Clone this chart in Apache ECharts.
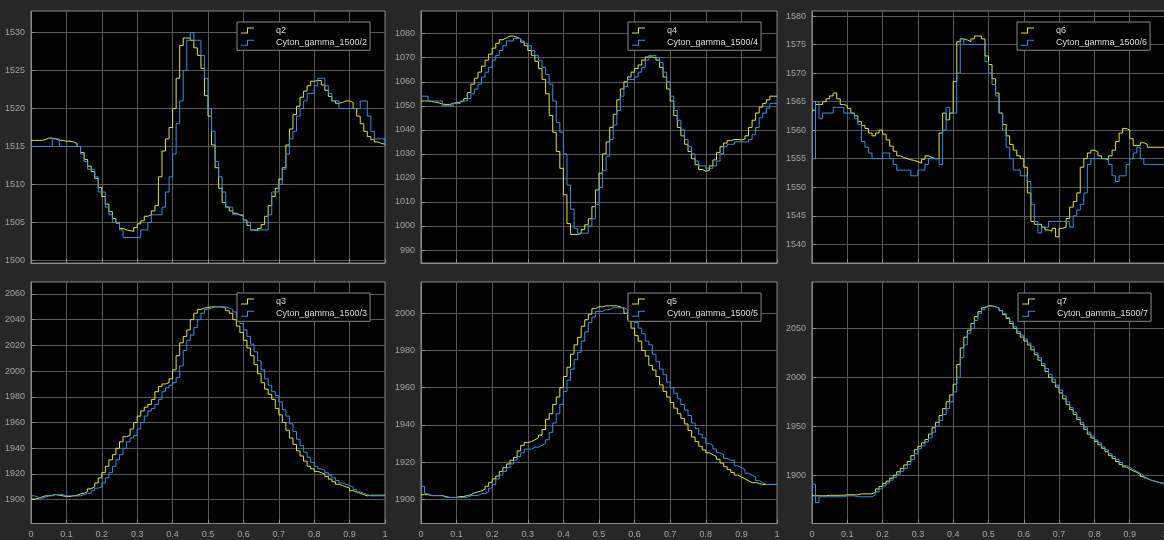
<!DOCTYPE html>
<html>
<head>
<meta charset="utf-8">
<script src="https://cdn.jsdelivr.net/npm/echarts@6/dist/echarts.min.js"></script>
<style>
  html, body { margin: 0; padding: 0; background: #272727; }
  #chart { width: 1164px; height: 540px; }
</style>
</head>
<body>
<div id="chart"></div>
<script>
// Scope sample period (s) and shared time-axis ticks
const SAMPLE_TIME = 0.01;
const X_TICKS = [0, 0.1, 0.2, 0.3, 0.4, 0.5, 0.6, 0.7, 0.8, 0.9, 1];

// Joint 2
const Q2_REF = [1515.8, 1515.8, 1515.8, 1515.9, 1516.1, 1516.1, 1516.0, 1515.8, 1515.8, 1515.7,
  1515.7, 1515.6, 1515.4, 1515.0, 1514.2, 1513.3, 1512.4, 1511.7, 1510.8, 1509.6,
  1508.4, 1507.4, 1506.4, 1505.5, 1504.9, 1504.2, 1504.0, 1503.9, 1503.8, 1504.3,
  1504.8, 1505.2, 1505.8, 1506.0, 1506.5, 1507.2, 1511.0, 1514.4, 1516.0, 1517.5,
  1520.0, 1524.0, 1528.3, 1529.3, 1529.3, 1529.0, 1528.0, 1527.0, 1525.3, 1521.7,
  1519.0, 1515.2, 1512.2, 1509.5, 1507.6, 1507.0, 1506.5, 1506.2, 1506.0, 1505.8,
  1505.3, 1504.6, 1504.0, 1503.9, 1504.2, 1504.7, 1505.8, 1507.2, 1508.4, 1509.5,
  1510.7, 1512.2, 1515.2, 1517.3, 1519.2, 1520.3, 1521.5, 1522.3, 1523.0, 1523.6,
  1523.7, 1523.7, 1523.1, 1522.4, 1521.6, 1521.0, 1520.7, 1520.8, 1521.0, 1521.0,
  1520.8, 1520.0, 1519.0, 1518.0, 1517.0, 1516.3, 1515.9, 1515.6, 1515.4, 1515.3, 1515.3];
const Q2_ACT = [1515, 1515, 1515, 1515, 1515, 1515, 1516, 1516, 1515, 1515,
  1515, 1515, 1515, 1515, 1514, 1513, 1512, 1512, 1511, 1509,
  1509, 1507, 1506, 1505, 1505, 1504, 1503, 1503, 1503, 1503,
  1503, 1504, 1504, 1505, 1506, 1506, 1506, 1507, 1509, 1511,
  1514, 1518, 1521, 1525, 1529, 1530, 1529, 1529, 1527, 1524,
  1520, 1517, 1513, 1511, 1509, 1507, 1507, 1506, 1506, 1506,
  1505, 1505, 1504, 1504, 1504, 1504, 1504, 1506, 1509, 1509,
  1510, 1512, 1514, 1516, 1517, 1519, 1520, 1521, 1522, 1522,
  1523, 1524, 1524, 1523, 1522, 1521, 1521, 1520, 1520, 1520,
  1520, 1520, 1520, 1521, 1521, 1519, 1517, 1516, 1516, 1516, 1515];
const Q2_TICKS = [1500, 1505, 1510, 1515, 1520, 1525, 1530];

// Joint 4
const Q4_REF = [1052, 1052, 1051.8, 1051.5, 1051.2, 1050.8, 1050.5, 1050.5, 1051, 1051.3,
  1051.5, 1052, 1053, 1055.5, 1059, 1061.5, 1064, 1066.5, 1069, 1071.5,
  1074, 1076, 1077.5, 1078.3, 1079, 1079, 1078.5, 1077.8, 1076.5, 1075,
  1073, 1071, 1068.5, 1065.5, 1061, 1055, 1046, 1039, 1031, 1024,
  1013, 1001, 996.5, 996.5, 996.8, 998.5, 1000.5, 1003, 1008, 1015,
  1022, 1030, 1035, 1041, 1046.5, 1052.5, 1057, 1060, 1062, 1064,
  1065.5, 1067, 1069, 1070.3, 1070.3, 1070, 1069, 1066, 1062, 1057,
  1052, 1046, 1041, 1037.5, 1034, 1031, 1028, 1025.5, 1023.5, 1022.8,
  1023.2, 1025, 1027.5, 1030.5, 1033, 1034.5, 1035.5, 1036, 1036, 1035.8,
  1036.2, 1037.5, 1041, 1044, 1047, 1049.5, 1051, 1052.5, 1054, 1054, 1054];
const Q4_ACT = [1054, 1054, 1052, 1052, 1052, 1052, 1050, 1050, 1050, 1051,
  1051, 1052, 1052, 1053, 1055, 1057, 1059, 1062, 1064, 1066,
  1069, 1071, 1073, 1075, 1077, 1077, 1078, 1078, 1077, 1076,
  1075, 1073, 1071, 1069, 1066, 1063, 1059, 1052, 1043, 1039,
  1030, 1017, 1007, 999, 997, 997, 997, 1000, 1003, 1009,
  1016, 1023, 1029, 1036, 1042, 1048, 1054, 1058, 1061, 1061,
  1062, 1064, 1066, 1069, 1071, 1071, 1070, 1068, 1064, 1060,
  1054, 1048, 1044, 1040, 1036, 1033, 1030, 1027, 1025, 1025,
  1024, 1024, 1025, 1027, 1030, 1033, 1034, 1034, 1035, 1035,
  1035, 1035, 1036, 1038, 1041, 1045, 1047, 1049, 1051, 1051, 1051];
const Q4_TICKS = [990, 1000, 1010, 1020, 1030, 1040, 1050, 1060, 1070, 1080];

// Joint 6
const Q6_REF = [1563.5, 1564.5, 1564.5, 1565, 1565.5, 1566, 1566.5, 1565.5, 1564.5, 1564.3,
  1563.8, 1563, 1562.5, 1561.5, 1560.8, 1560.3, 1559.5, 1559, 1559.5, 1560,
  1559.3, 1558.3, 1557.2, 1556.3, 1555.5, 1555.2, 1555, 1554.8, 1554.7, 1554.5,
  1554.2, 1554.9, 1555.5, 1555.2, 1555, 1555, 1559.5, 1563, 1561.8, 1563,
  1568.5, 1575.5, 1576, 1575.8, 1575.5, 1576, 1576.5, 1576.5, 1576, 1573,
  1571.5, 1569, 1566.5, 1563, 1561, 1559, 1557.5, 1556.5, 1555.5, 1555,
  1553.5, 1549, 1544, 1543.5, 1543.5, 1543, 1542.5, 1542.3, 1542.8, 1541.3,
  1542.8, 1543, 1544.5, 1546.5, 1547.5, 1549, 1553.5, 1555, 1556, 1556.5,
  1556.2, 1555.5, 1555, 1554.8, 1555.5, 1556.5, 1558, 1559.5, 1560.3, 1560,
  1558.5, 1557.3, 1557.3, 1557.8, 1557.5, 1557, 1557, 1557, 1557, 1557, 1557];
const Q6_ACT = [1555, 1565, 1562, 1563, 1563, 1563, 1564, 1564, 1564, 1563,
  1563, 1563, 1562, 1561, 1558, 1557, 1556, 1555, 1555, 1555,
  1556, 1556, 1555, 1554, 1553, 1553, 1553, 1553, 1552, 1552,
  1553, 1553, 1554, 1555, 1555, 1555, 1554, 1560, 1564, 1563,
  1563, 1570, 1576, 1575, 1575, 1575, 1575, 1575, 1575, 1572,
  1570, 1568, 1566, 1563, 1560, 1557, 1555, 1553, 1553, 1552,
  1552, 1551, 1547, 1544, 1542, 1543, 1543, 1544, 1544, 1544,
  1544, 1544, 1544, 1543, 1545, 1546, 1547, 1549, 1554, 1555,
  1555, 1555, 1555, 1555, 1554, 1552, 1551, 1552, 1552, 1554,
  1555, 1556, 1557, 1555, 1554, 1554, 1554, 1554, 1554, 1554, 1554];
const Q6_TICKS = [1540, 1545, 1550, 1555, 1560, 1565, 1570, 1575, 1580];

// Joint 3
const Q3_REF = [1900.5, 1901, 1902, 1903, 1903, 1903.5, 1904, 1903.5, 1903, 1902.5,
  1902.5, 1903, 1903.5, 1904.5, 1905, 1906.5, 1908.5, 1910, 1913, 1917,
  1921, 1926, 1931, 1935, 1940, 1945, 1949, 1950, 1955, 1960,
  1965, 1969, 1972, 1974, 1978, 1984, 1988, 1990, 1991, 1994,
  2001, 2012, 2022, 2027, 2032, 2040, 2045, 2048, 2049, 2049.5,
  2050, 2050, 2050, 2050, 2049, 2047, 2045, 2040, 2035, 2030,
  2024, 2018, 2012, 2005, 1998, 1991, 1986, 1982, 1978, 1971,
  1966, 1960, 1954, 1948, 1943, 1938, 1934, 1930, 1926, 1924,
  1922, 1921, 1920, 1918, 1916, 1914, 1912, 1911, 1910, 1909,
  1907, 1906, 1905, 1904, 1903, 1903.5, 1903.5, 1903.5, 1903.5, 1903.5, 1904];
const Q3_ACT = [1903, 1902, 1901, 1902, 1903, 1903, 1904, 1904, 1904, 1903,
  1903, 1903, 1903, 1903, 1904, 1905, 1905, 1907, 1909, 1910,
  1913, 1917, 1921, 1926, 1931, 1935, 1940, 1945, 1948, 1950,
  1955, 1960, 1965, 1969, 1971, 1974, 1978, 1984, 1987, 1989,
  1991, 1995, 2004, 2016, 2024, 2028, 2034, 2040, 2045, 2048,
  2049, 2050, 2050, 2050, 2050, 2049, 2048, 2046, 2042, 2037,
  2032, 2027, 2021, 2015, 2008, 2001, 1994, 1989, 1984, 1981,
  1976, 1970, 1965, 1959, 1953, 1947, 1942, 1937, 1933, 1929,
  1926, 1924, 1923, 1921, 1919, 1917, 1915, 1913, 1912, 1911,
  1910, 1908, 1906, 1905, 1904, 1903, 1903, 1903, 1903, 1903, 1903];
const Q3_TICKS = [1900, 1920, 1940, 1960, 1980, 2000, 2020, 2040, 2060];

// Joint 5
const Q5_REF = [1902.5, 1902.5, 1902, 1902, 1902, 1902, 1901.5, 1901, 1901, 1901,
  1901.5, 1901.5, 1902, 1902.5, 1903.5, 1904, 1904.5, 1905.5, 1907, 1909,
  1911, 1912.5, 1915, 1917, 1919, 1921, 1922.5, 1926, 1929, 1930.5,
  1931, 1932, 1933, 1934.5, 1937.5, 1943, 1946, 1951, 1955, 1960,
  1966, 1971, 1978, 1983, 1987, 1993, 1996.5, 1999.5, 2002.5, 2003.5,
  2003.5, 2004, 2004, 2004, 2004, 2003.5, 2002.5, 2000, 1996.5, 1992,
  1988, 1985, 1980, 1977, 1972, 1969.5, 1966, 1961.5, 1958, 1955,
  1952, 1949, 1946, 1943.5, 1940.5, 1937, 1933.5, 1931, 1928.5, 1926.5,
  1925, 1924, 1923, 1921.5, 1919.5, 1917.5, 1916, 1914.5, 1913, 1912,
  1911, 1910, 1909, 1909, 1908.5, 1908, 1908, 1908, 1908, 1908, 1908];
const Q5_ACT = [1907, 1903, 1902, 1902, 1902, 1902, 1901, 1901, 1901, 1901,
  1901, 1901, 1901, 1902, 1902, 1902, 1903, 1903, 1904, 1906,
  1908, 1911, 1913, 1915, 1917, 1919, 1921, 1923, 1925, 1927,
  1927, 1928, 1928, 1929, 1930, 1932, 1936, 1941, 1946, 1951,
  1958, 1964, 1970, 1975, 1979, 1985, 1990, 1995, 1998, 2001,
  2001, 2002, 2002, 2003, 2003, 2003, 2003, 2002, 1999, 1997,
  1995, 1992, 1989, 1985, 1983, 1978, 1974, 1970, 1967, 1963,
  1960, 1957, 1954, 1951, 1948, 1945, 1941, 1938, 1935, 1933,
  1930, 1929, 1927, 1925, 1924, 1922, 1921, 1921, 1918, 1917,
  1916, 1914, 1913, 1912, 1910, 1909, 1908, 1908, 1908, 1908, 1908];
const Q5_TICKS = [1900, 1920, 1940, 1960, 1980, 2000];

// Joint 7
const Q7_REF = [1879, 1879, 1879, 1879, 1879.5, 1879.5, 1879.5, 1879.5, 1879.5, 1880,
  1880, 1880, 1880, 1881, 1881, 1881, 1881, 1883, 1886, 1888.5,
  1891.5, 1894, 1897, 1900, 1903.5, 1907, 1910.5, 1914, 1920, 1926,
  1929.5, 1933, 1936.5, 1942, 1948.5, 1954, 1961, 1968, 1975, 1982,
  1993, 2013, 2030, 2041, 2048, 2055, 2062, 2067, 2071, 2073,
  2073, 2072, 2070.5, 2068, 2064, 2060, 2055, 2050, 2045, 2041,
  2037, 2033, 2028, 2023, 2017.5, 2012, 2006, 2000, 1995, 1990,
  1984, 1978, 1972, 1967, 1962, 1957, 1952, 1947, 1942, 1938,
  1934.5, 1931, 1927.5, 1924, 1920, 1917, 1914, 1911, 1908.5, 1906.5,
  1904.5, 1903, 1901, 1898.5, 1896.5, 1895, 1894, 1893, 1892, 1891.5, 1891];
const Q7_ACT = [1891, 1872, 1878, 1878, 1878, 1878, 1878, 1878, 1878, 1879,
  1879, 1879, 1878, 1878, 1878, 1878, 1878, 1880, 1883, 1886,
  1889, 1892, 1895, 1898, 1901, 1904, 1907, 1911, 1916, 1922,
  1927, 1930, 1934, 1938, 1944, 1950, 1956, 1962, 1968, 1975,
  1985, 2000, 2020, 2033, 2045, 2050, 2058, 2065, 2069, 2072,
  2073, 2072, 2071, 2068, 2065, 2061, 2057, 2052, 2047, 2043,
  2039, 2035, 2031, 2025, 2020, 2014, 2009, 2003, 1998, 1992,
  1987, 1981, 1975, 1969, 1964, 1959, 1954, 1949, 1944, 1940,
  1936, 1933, 1929, 1926, 1922, 1919, 1916, 1913, 1910, 1908,
  1906, 1904, 1902, 1900, 1897, 1895, 1894, 1893, 1892, 1891, 1891];
const Q7_TICKS = [1900, 1950, 2000, 2050];

// Panel definitions: reference/measured signal pairs and their axis limits
const PANELS = [
  { ref: 'q2', act: 'Cyton_gamma_1500/2', refData: Q2_REF, actData: Q2_ACT, yMin: 1499.64, yMax: 1532.86, ticks: Q2_TICKS },
  { ref: 'q4', act: 'Cyton_gamma_1500/4', refData: Q4_REF, actData: Q4_ACT, yMin: 984.6, yMax: 1089.45, ticks: Q4_TICKS },
  { ref: 'q6', act: 'Cyton_gamma_1500/6', refData: Q6_REF, actData: Q6_ACT, yMin: 1536.72, yMax: 1580.88, ticks: Q6_TICKS },
  { ref: 'q3', act: 'Cyton_gamma_1500/3', refData: Q3_REF, actData: Q3_ACT, yMin: 1881.5, yMax: 2069.3, ticks: Q3_TICKS },
  { ref: 'q5', act: 'Cyton_gamma_1500/5', refData: Q5_REF, actData: Q5_ACT, yMin: 1887.0, yMax: 2016.8, ticks: Q5_TICKS },
  { ref: 'q7', act: 'Cyton_gamma_1500/7', refData: Q7_REF, actData: Q7_ACT, yMin: 1850.7, yMax: 2097.3, ticks: Q7_TICKS }
];

// Layout of the 2x3 scope grid (pixels)
const COLS = [{ left: 31, width: 354 }, { left: 421, width: 356 }, { left: 812, width: 353 }];
const ROWS = [{ top: 11, height: 252 }, { top: 282, height: 241.5 }];
const LEGEND_POS = [
  { left: 237, top: 22 }, { left: 628, top: 22 }, { left: 1017, top: 22 },
  { left: 237, top: 293 }, { left: 628, top: 293 }, { left: 1018, top: 293 }
];

const YELLOW = '#e3e336';
const BLUE = '#3a8de0';
const FONT = '"Liberation Sans", Arial, sans-serif';
const LABEL_COLOR = '#a3a3a3';
const BORDER_COLOR = '#8a8a8a';
const GRID_COLOR = '#585858';
// Step-shaped legend glyph, filled as a 1px-thick outline
const STEP_ICON = 'path://M0,5L6,5L6,0L13,0L13,1L7,1L7,6L0,6Z';

function toSteps(values) {
  return values.map((v, i) => [i * SAMPLE_TIME, v]);
}

const grid = [], xAxis = [], yAxis = [], series = [], legend = [];

PANELS.forEach((p, k) => {
  const col = COLS[k % 3], row = ROWS[Math.floor(k / 3)];
  const bottomRow = k >= 3;
  grid.push({
    left: col.left, width: col.width, top: row.top, height: row.height,
    show: true, backgroundColor: '#000000', borderColor: BORDER_COLOR, borderWidth: 1,
    containLabel: false, outerBoundsMode: 'none'
  });
  xAxis.push({
    gridIndex: k, type: 'value', min: 0, max: 1, interval: 0.1,
    axisLine: { show: true, lineStyle: { color: BORDER_COLOR } },
    axisTick: { show: true, inside: true, length: 4, lineStyle: { color: BORDER_COLOR } },
    axisLabel: {
      show: bottomRow, color: LABEL_COLOR, fontSize: 9, fontFamily: FONT, margin: 7,
      customValues: X_TICKS, formatter: v => String(Math.round(v * 10) / 10)
    },
    splitLine: { show: true, lineStyle: { color: GRID_COLOR, width: 1 } }
  });
  yAxis.push({
    gridIndex: k, type: 'value', min: p.yMin, max: p.yMax,
    axisLine: { show: true, lineStyle: { color: BORDER_COLOR } },
    axisTick: { show: true, inside: true, length: 4, customValues: p.ticks, lineStyle: { color: BORDER_COLOR } },
    axisLabel: {
      color: LABEL_COLOR, fontSize: 9, fontFamily: FONT, margin: 6, customValues: p.ticks,
      formatter: v => String(Math.round(v))
    },
    splitLine: { show: true, lineStyle: { color: GRID_COLOR, width: 1 } }
  });
  [[p.ref, p.refData, YELLOW], [p.act, p.actData, BLUE]].forEach(([name, data, color]) => {
    series.push({
      name: name, type: 'line', xAxisIndex: k, yAxisIndex: k,
      data: toSteps(data), step: 'end', showSymbol: false, symbol: 'none',
      color: color, itemStyle: { color: color }, lineStyle: { color: color, width: 1 },
      emphasis: { disabled: true }, animation: false, clip: true
    });
  });
  legend.push({
    orient: 'vertical', left: LEGEND_POS[k].left, top: LEGEND_POS[k].top,
    padding: [3, 3, 2, 4], itemGap: 1.3, itemWidth: 13, itemHeight: 6,
    icon: STEP_ICON,
    backgroundColor: '#000000', borderColor: BORDER_COLOR, borderWidth: 1, borderRadius: 0,
    selectedMode: false,
    formatter: name => '{t|' + name + '}',
    textStyle: {
      color: '#dedede', fontSize: 9, fontFamily: FONT, lineHeight: 11,
      rich: { t: { color: '#dedede', fontSize: 9, fontFamily: FONT, lineHeight: 11, padding: [0, 0, 0, 17] } }
    },
    data: [
      { name: p.ref, itemStyle: { color: YELLOW, borderWidth: 0 } },
      { name: p.act, itemStyle: { color: BLUE, borderWidth: 0 } }
    ]
  });
});

const chart = echarts.init(document.getElementById('chart'), null, { renderer: 'canvas' });
chart.setOption({
  backgroundColor: '#272727',
  animation: false,
  grid, xAxis, yAxis, series, legend
});
</script>
</body>
</html>
